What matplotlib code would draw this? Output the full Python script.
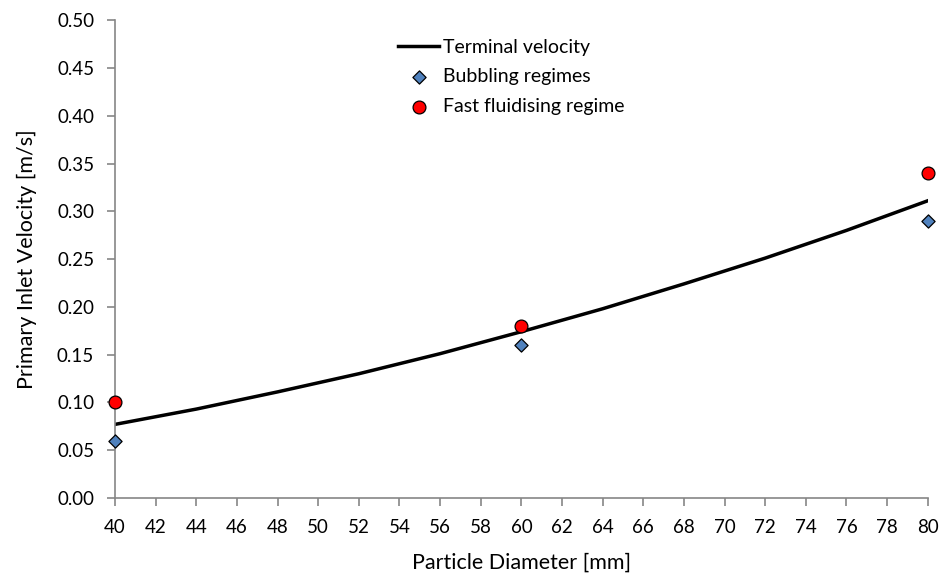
import matplotlib.pyplot as plt

# terminal velocity curve, read at every 4 mm
diam_curve = [40, 44, 48, 52, 56, 60, 64, 68, 72, 76, 80]
vel_terminal = [0.077, 0.093, 0.111, 0.130, 0.151, 0.174, 0.198, 0.224, 0.251, 0.280, 0.311]

# simulated cases
diam_cases = [40, 60, 80]
vel_bubbling = [0.06, 0.16, 0.29]
vel_fast = [0.10, 0.18, 0.34]

plt.rcParams['font.family'] = ['Lato', 'DejaVu Sans']

fig = plt.figure(figsize=(9.39, 5.77), dpi=100)
ax = fig.add_axes([0.1225, 0.137, 0.8655, 0.828])

ax.plot(diam_curve, vel_terminal, color="black", lw=2.5, label="Terminal velocity", zorder=2)
ax.scatter(diam_cases, vel_bubbling, marker="D", s=45, color="#4F81BD",
           edgecolor="black", linewidth=0.9, label="Bubbling regimes", zorder=3, clip_on=False)
ax.scatter(diam_cases, vel_fast, marker="o", s=85, color="#FF0000",
           edgecolor="black", linewidth=0.9, label="Fast fluidising regime", zorder=3, clip_on=False)

ax.set_xlim(40, 80)
ax.set_ylim(0, 0.5)
ax.set_xticks(range(40, 81, 2))
ax.set_yticks([i * 0.05 for i in range(11)])
ax.yaxis.set_major_formatter(plt.FormatStrFormatter("%.2f"))

for side in ["top", "right"]:
    ax.spines[side].set_visible(False)
for side in ["left", "bottom"]:
    ax.spines[side].set_color("#868686")
    ax.spines[side].set_linewidth(1.2)
ax.tick_params(colors="#868686", labelcolor="black", labelsize=13.5, length=6, width=1.2)
ax.tick_params(axis="x", pad=9)
ax.tick_params(axis="y", pad=9)

ax.set_xlabel("Particle Diameter [mm]", fontsize=15.5, labelpad=12)
ax.set_ylabel("Primary Inlet Velocity [m/s]", fontsize=15.5, labelpad=14)

ax.legend(loc="upper left", bbox_to_anchor=(0.327, 0.998), frameon=False, fontsize=14,
          handlelength=2.1, handletextpad=0.2, labelspacing=0.65)

fig.savefig("out.png", dpi=100)
